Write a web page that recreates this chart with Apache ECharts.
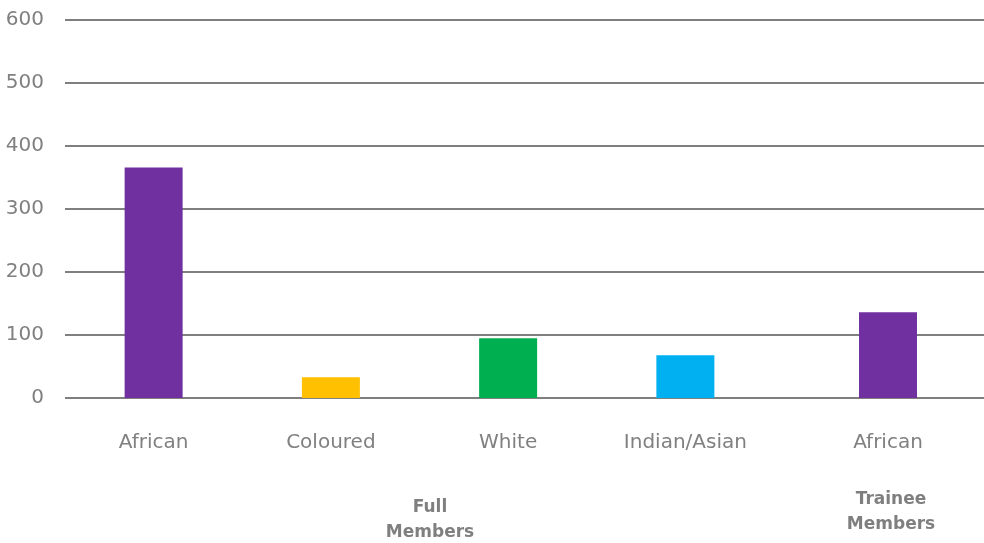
<!DOCTYPE html>
<html>
<head>
<meta charset="utf-8">
<script src="https://cdn.jsdelivr.net/npm/echarts@6/dist/echarts.min.js"></script>
<style>html,body{margin:0;padding:0;background:#fff;}#c{width:984px;height:543px;}</style>
</head>
<body>
<div id="c"></div>
<script>
var fullCategories = ['African', 'Coloured', 'White', 'Indian/Asian'];
var fullValues = [366, 33, 95, 68];
var fullColors = ['#7030A0', '#FFC000', '#00B050', '#00B0F0'];
var traineeCategories = ['African'];
var traineeValues = [136];
var traineeColors = ['#7030A0'];
var groupLabels = ['Full\nMembers', 'Trainee\nMembers'];
var yTicks = [0, 100, 200, 300, 400, 500, 600];

var chart = echarts.init(document.getElementById('c'));
var labelFont = '"DejaVu Sans", sans-serif';
var yBase = {
  type: 'value', min: yTicks[0], max: yTicks[yTicks.length - 1], interval: 100,
  axisLine: { show: false }, axisTick: { show: false }
};
var xBase = {
  type: 'category',
  axisLine: { show: false },
  axisTick: { show: false },
  axisLabel: { color: '#808080', fontSize: 20, fontFamily: labelFont, fontWeight: 'normal', margin: 35 }
};
chart.setOption({
  animation: false,
  grid: [
    { left: 65, top: 20, width: 919, height: 378 },
    { left: 65, top: 20, width: 709, height: 378 },
    { left: 792, top: 20, width: 192, height: 378 }
  ],
  xAxis: [
    { type: 'category', gridIndex: 0, data: [''], show: false },
    Object.assign({ gridIndex: 1, data: fullCategories }, xBase),
    Object.assign({ gridIndex: 2, data: traineeCategories }, xBase)
  ],
  yAxis: [
    Object.assign({ gridIndex: 0, splitLine: { show: true, lineStyle: { color: '#7f7f7f', width: 2 } },
      axisLabel: { color: '#808080', fontSize: 20, fontFamily: labelFont, margin: 21 } }, yBase),
    Object.assign({ gridIndex: 1, splitLine: { show: false }, axisLabel: { show: false } }, yBase),
    Object.assign({ gridIndex: 2, splitLine: { show: false }, axisLabel: { show: false } }, yBase)
  ],
  series: [
    {
      type: 'bar', xAxisIndex: 1, yAxisIndex: 1, barWidth: 58,
      data: fullValues.map(function (v, i) { return { value: v, itemStyle: { color: fullColors[i] } }; })
    },
    {
      type: 'bar', xAxisIndex: 2, yAxisIndex: 2, barWidth: 58,
      data: traineeValues.map(function (v, i) { return { value: v, itemStyle: { color: traineeColors[i] } }; })
    }
  ],
  graphic: [
    { type: 'text', x: 430, y: 495, style: { text: groupLabels[0], fill: '#7f7f7f', font: 'bold 17px "DejaVu Sans", sans-serif', align: 'center', lineHeight: 25 } },
    { type: 'text', x: 891, y: 487, style: { text: groupLabels[1], fill: '#7f7f7f', font: 'bold 17px "DejaVu Sans", sans-serif', align: 'center', lineHeight: 25 } }
  ]
});
</script>
</body>
</html>
